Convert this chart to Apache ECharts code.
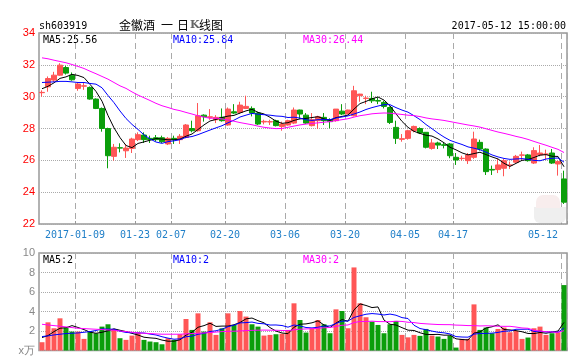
<!DOCTYPE html>
<html><head><meta charset="utf-8">
<script src="https://cdn.jsdelivr.net/npm/echarts@6/dist/echarts.min.js"></script>
<style>html,body{margin:0;padding:0;background:#fff}#c{width:581px;height:356px}</style>
</head><body><div id="c"></div><script>
const dates = ['2016-12-29','2016-12-30','2017-01-03','2017-01-04','2017-01-05','2017-01-06','2017-01-09','2017-01-10','2017-01-11','2017-01-12',
'2017-01-13','2017-01-16','2017-01-17','2017-01-18','2017-01-19','2017-01-20','2017-01-23','2017-01-24','2017-01-25','2017-01-26',
'2017-02-03','2017-02-06','2017-02-07','2017-02-08','2017-02-09','2017-02-10','2017-02-13','2017-02-14','2017-02-15','2017-02-16',
'2017-02-17','2017-02-20','2017-02-21','2017-02-22','2017-02-23','2017-02-24','2017-02-27','2017-02-28','2017-03-01','2017-03-02',
'2017-03-03','2017-03-06','2017-03-07','2017-03-08','2017-03-09','2017-03-10','2017-03-13','2017-03-14','2017-03-15','2017-03-16',
'2017-03-17','2017-03-20','2017-03-21','2017-03-22','2017-03-23','2017-03-24','2017-03-27','2017-03-28','2017-03-29','2017-03-30',
'2017-03-31','2017-04-05','2017-04-06','2017-04-07','2017-04-10','2017-04-11','2017-04-12','2017-04-13','2017-04-14','2017-04-17',
'2017-04-18','2017-04-19','2017-04-20','2017-04-21','2017-04-24','2017-04-25','2017-04-26','2017-04-27','2017-04-28','2017-05-02',
'2017-05-03','2017-05-04','2017-05-05','2017-05-08','2017-05-09','2017-05-10','2017-05-11','2017-05-12'];

const opens = [30.25,30.62,31.04,31.35,31.83,31.35,30.52,30.66,30.58,29.85,
29.26,28.0,26.25,26.79,26.6,26.75,27.3,27.59,27.38,27.42,
27.42,27.03,27.38,27.3,27.44,28.0,27.86,28.84,28.7,28.55,
28.7,28.22,29.05,29.01,29.26,29.26,28.97,28.41,28.41,28.49,
28.13,28.22,28.34,29.16,28.84,28.18,28.49,28.7,28.55,28.49,
29.09,28.91,28.8,30.06,29.89,29.89,29.76,29.64,29.32,28.07,
27.32,27.38,27.86,28.0,27.76,26.75,27.09,26.98,27.03,26.19,
26.11,25.98,26.19,27.13,26.71,25.43,25.42,25.5,25.69,25.88,
26.32,26.34,25.83,26.34,26.38,26.46,25.77,24.83];
const closes = [30.27,31.14,31.35,31.98,31.48,31.06,30.79,30.68,29.85,29.26,
28.0,26.29,26.82,26.77,26.77,27.34,27.61,27.3,27.3,27.3,
27.17,27.38,27.3,27.51,28.22,27.86,28.8,28.74,28.74,28.7,
28.49,29.22,28.97,29.47,29.39,28.97,28.28,28.45,28.43,28.18,
28.28,28.49,29.16,28.91,28.34,28.55,28.74,28.49,28.43,29.22,
28.91,29.16,30.37,30.16,29.91,29.74,29.72,29.39,28.38,27.38,
27.36,27.86,28.13,27.72,26.82,27.09,26.96,26.94,26.29,26.02,
26.13,26.34,27.34,26.71,25.29,25.39,25.71,25.98,25.71,26.25,
26.34,25.98,26.61,26.46,26.4,25.83,25.92,23.37];
const lows = [30.0,30.31,30.93,31.31,31.39,31.0,30.37,30.43,29.81,29.22,
27.8,25.5,25.98,26.5,26.15,26.46,27.21,27.09,27.09,27.19,
27.09,26.96,27.03,27.03,27.38,27.76,27.8,28.43,28.55,28.34,
28.43,28.18,28.91,28.91,29.22,28.76,28.22,28.26,28.22,28.13,
27.86,28.18,28.28,28.59,28.28,28.13,27.97,28.22,28.01,28.43,
28.84,28.91,28.76,29.68,29.53,29.6,29.53,29.26,28.28,27.03,
27.17,27.3,27.76,27.65,26.75,26.67,26.71,26.75,26.13,25.71,
25.98,25.77,26.09,26.61,25.08,25.08,25.2,25.0,25.46,25.83,
25.98,25.92,25.77,26.25,26.04,25.77,25.04,23.26];
const highs = [30.4,31.27,31.56,32.1,31.94,31.52,30.89,30.89,30.64,29.89,
29.32,28.05,27.03,27.07,27.03,27.42,27.76,27.76,27.55,27.59,
27.55,27.46,27.55,27.65,28.28,28.49,29.6,28.89,29.22,28.84,
29.26,29.32,29.53,29.68,30.06,29.39,29.05,28.55,28.55,28.55,
28.43,28.55,29.32,29.18,28.97,28.97,28.8,28.97,28.64,29.22,
29.53,29.18,30.68,30.18,30.06,30.31,29.95,29.74,29.39,28.49,
27.65,27.92,28.18,28.07,27.78,27.34,27.17,27.13,27.09,26.46,
26.29,26.46,27.8,27.3,26.75,25.67,26.09,26.09,25.92,26.34,
26.55,26.4,26.82,26.96,26.67,26.71,25.98,25.35];
const volumes = [0.85,2.89,2.28,3.3,2.35,1.94,1.94,1.19,2.0,1.77,
2.45,2.69,2.21,1.26,1.09,1.53,1.84,1.09,0.92,0.85,
0.64,1.26,1.09,1.67,3.23,2.11,3.81,1.94,2.89,1.6,
2.28,3.81,2.62,4.05,3.48,2.69,2.45,1.53,1.6,1.67,
1.72,2.11,4.84,3.13,1.84,2.28,3.13,2.69,1.77,4.22,
4.05,2.28,8.52,4.84,3.41,2.96,2.62,1.77,2.69,3.03,
1.6,1.35,1.6,1.5,2.21,1.53,1.43,1.19,1.53,0.3,
1.19,1.19,4.73,2.11,2.35,1.77,2.21,2.35,1.87,2.0,
1.19,1.33,2.28,2.45,1.6,1.77,1.87,6.71];

// moving-average values for the first days (earlier history not shown)
const ma5Lead = [30.5,30.65,30.87,31.15];
const ma10Lead = [30.89,30.91,30.93,30.96,30.96,30.93,30.89,30.89,30.83];
const ma30Lead = [32.44,32.38,32.29,32.21,32.13,32.02,31.9,31.77,31.6,31.44,31.27,31.1,30.89,30.68,30.52,30.3,30.1,29.93,29.76,29.58,29.43,29.32,29.2,29.12,29.01,28.91,28.8,28.72,28.64];
const vma5Lead = [1.33,1.53,1.94,2.28];
const vma10Lead = [1.43,1.5,1.6,1.67,1.74,1.77,1.8,1.87,1.94];
const vma30Lead = [2.69,2.62,2.55,2.49,2.42,2.35,2.28,2.25,2.21,2.18,2.15,2.11,2.08,2.0,1.94,1.87,1.8,1.77,1.74,1.7,1.67,1.67,1.67,1.67,1.7,1.74,1.77,1.8,1.84];

const tickDates = ['2017-01-09','2017-01-23','2017-02-07','2017-02-20','2017-03-06','2017-03-20','2017-04-05','2017-04-17','2017-05-12'];
const tickLabels = ['2017-01-09','01-23','02-07','02-20','03-06','03-20','04-05','04-17','05-12'];
const priceTicks = [22,24,26,28,30,32,34];
const volTicks = [0,2,4,6,8,10];

const headerCode = 'sh603919';
const headerName = ['金徽酒','一','日','K','线','图'];
const headerTime = '2017-05-12 15:00:00';
const maTexts = ['MA5:25.56','MA10:25.84','MA30:26.44'];
const vmaTexts = ['MA5:2','MA10:2','MA30:2'];

function movingAvg(vals, n, lead){
  return vals.map((v,i)=>{
    if(i < lead.length) return lead[i];
    let s=0; for(let k=i-n+1;k<=i;k++) s+=vals[k];
    return +(s/n).toFixed(3);
  });
}

const RED='#ff5656', GREEN='#0b9e0b';
const candleData = dates.map((d,i)=>[opens[i],closes[i],lows[i],highs[i]]);
const volData = volumes.map((v,i)=>({value:v,itemStyle:{color: closes[i]>=opens[i]?RED:GREEN}}));
const tickSet = new Set(tickDates);
const labelMap = {}; tickDates.forEach((d,i)=>labelMap[d]=tickLabels[i]);
const showTick = (idx,val)=>tickSet.has(val);

const chart = echarts.init(document.getElementById('c'), null, {renderer:'canvas'});
const mono = '"DejaVu Sans Mono", monospace';
const cjk = '12px "Noto Sans CJK SC", sans-serif';
function xAxisCfg(gi, showLabel){
  return {
    type:'category', gridIndex:gi, data:dates, boundaryGap:true,
    axisLine:{show:false},
    axisTick:{show:true, inside:true, length:3, interval:showTick, lineStyle:{color:'#999'}},
    axisLabel:{show:showLabel, interval:showTick, formatter:v=>labelMap[v]||'', color:'#1f7fc8',
      fontFamily:mono, fontSize:10, margin:6, padding:[0,6,0,0], alignMaxLabel:'right'},
    splitLine:{show:true, interval:showTick, lineStyle:{color:'#aaa', type:[6,4], width:1}}
  };
}
chart.setOption({
  animation:false,
  backgroundColor:'#fff',
  grid:[
    {left:39, top:33, width:528, height:191, show:true, borderColor:'#999', borderWidth:1.5, backgroundColor:'transparent'},
    {left:39, top:253, width:528, height:99, show:true, borderColor:'#999', borderWidth:1.5, backgroundColor:'transparent'}
  ],
  xAxis:[xAxisCfg(0,true), xAxisCfg(1,false)],
  yAxis:[
    {type:'value', gridIndex:0, min:priceTicks[0], max:priceTicks[priceTicks.length-1], interval:2,
     axisLine:{show:false}, axisTick:{show:false},
     axisLabel:{color:'#ff0000', fontFamily:'"Liberation Sans", Arial, sans-serif', fontSize:11, margin:4},
     splitLine:{show:true, lineStyle:{color:'#aaa', type:'dotted'}}},
    {type:'value', gridIndex:1, min:volTicks[0], max:volTicks[volTicks.length-1], interval:2,
     axisLine:{show:false}, axisTick:{show:false},
     axisLabel:{color:'#888', fontFamily:'"Liberation Sans", Arial, sans-serif', fontSize:11, margin:4,
       formatter:v=> v===0 ? 'x万' : String(v)},
     splitLine:{show:true, lineStyle:{color:'#aaa', type:'dotted'}}}
  ],
  series:[
    {type:'candlestick', xAxisIndex:0, yAxisIndex:0, data:candleData, barWidth:5,
     itemStyle:{color:RED, color0:GREEN, borderColor:RED, borderColor0:GREEN, borderWidth:1}},
    {type:'line', xAxisIndex:0, yAxisIndex:0, data:movingAvg(closes,5,ma5Lead), symbol:'none', lineStyle:{color:'#000',width:1}},
    {type:'line', xAxisIndex:0, yAxisIndex:0, data:movingAvg(closes,10,ma10Lead), symbol:'none', lineStyle:{color:'#0000ff',width:1}},
    {type:'line', xAxisIndex:0, yAxisIndex:0, data:movingAvg(closes,30,ma30Lead), symbol:'none', lineStyle:{color:'#ff00ff',width:1}},
    {type:'bar', xAxisIndex:1, yAxisIndex:1, data:volData, barWidth:5},
    {type:'line', xAxisIndex:1, yAxisIndex:1, data:movingAvg(volumes,5,vma5Lead), symbol:'none', lineStyle:{color:'#000',width:1}},
    {type:'line', xAxisIndex:1, yAxisIndex:1, data:movingAvg(volumes,10,vma10Lead), symbol:'none', lineStyle:{color:'#0000ff',width:1}},
    {type:'line', xAxisIndex:1, yAxisIndex:1, data:movingAvg(volumes,30,vma30Lead), symbol:'none', lineStyle:{color:'#ff00ff',width:1}}
  ],
  graphic:[
    // faint watermark badge at lower right of the price panel
    {type:'rect', shape:{x:534, y:207, width:32, height:16, r:[0,0,6,6]}, style:{fill:'#efefef'}, z:1},
    {type:'rect', shape:{x:536, y:195, width:24, height:13, r:[7,7,0,0]}, style:{fill:'#f8eded'}, z:1},
    {type:'text', x:39, y:26, style:{text:headerCode, font:'10px '+mono, fill:'#000', verticalAlign:'middle'}},
    {type:'text', x:119, y:25, style:{text:headerName[0], font:cjk, fill:'#000', verticalAlign:'middle'}},
    {type:'text', x:161, y:25, style:{text:headerName[1], font:cjk, fill:'#000', verticalAlign:'middle'}},
    {type:'text', x:177, y:25, style:{text:headerName[2], font:cjk, fill:'#000', verticalAlign:'middle'}},
    {type:'text', x:190, y:25, style:{text:headerName[3], font:'bold 11px "DejaVu Serif", serif', fill:'#666', verticalAlign:'middle'}},
    {type:'text', x:199, y:25, style:{text:headerName[4], font:cjk, fill:'#000', verticalAlign:'middle'}},
    {type:'text', x:211, y:25, style:{text:headerName[5], font:cjk, fill:'#000', verticalAlign:'middle'}},
    {type:'text', x:566, y:26, style:{text:headerTime, font:'10px '+mono, fill:'#000', align:'right', verticalAlign:'middle'}},
    {type:'text', x:43, y:40, style:{text:maTexts[0], font:'10px '+mono, fill:'#000', verticalAlign:'middle'}},
    {type:'text', x:173, y:40, style:{text:maTexts[1], font:'10px '+mono, fill:'#0000ff', verticalAlign:'middle'}},
    {type:'text', x:303, y:40, style:{text:maTexts[2], font:'10px '+mono, fill:'#ff00ff', verticalAlign:'middle'}},
    {type:'text', x:43, y:260, style:{text:vmaTexts[0], font:'10px '+mono, fill:'#000', verticalAlign:'middle'}},
    {type:'text', x:173, y:260, style:{text:vmaTexts[1], font:'10px '+mono, fill:'#0000ff', verticalAlign:'middle'}},
    {type:'text', x:303, y:260, style:{text:vmaTexts[2], font:'10px '+mono, fill:'#ff00ff', verticalAlign:'middle'}}
  ]
});
</script></body></html>
